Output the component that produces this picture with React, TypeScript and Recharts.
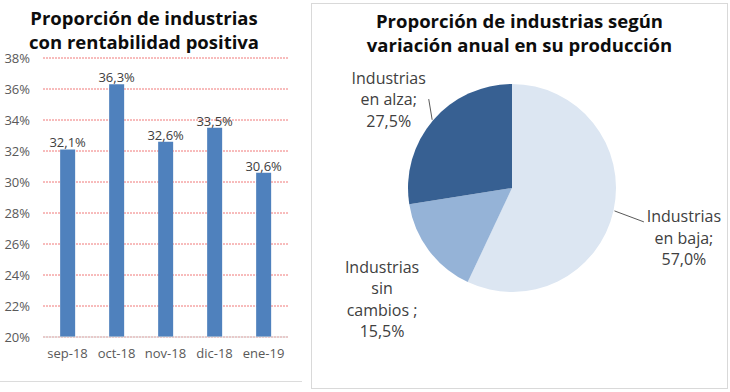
import React from 'react';
import { BarChart, Bar, XAxis, YAxis, CartesianGrid, LabelList, PieChart, Pie, Cell } from 'recharts';

const months = ['sep-18', 'oct-18', 'nov-18', 'dic-18', 'ene-19'];
const rentabilidad = [32.1, 36.3, 32.6, 33.5, 30.6];
const yTicks = [20, 22, 24, 26, 28, 30, 32, 34, 36, 38];

const pieNames = ['Industrias\nen baja;', 'Industrias\nsin\ncambios ;', 'Industrias\nen alza;'];
const pieValues = [57.0, 15.5, 27.5];
const pieColors = ['#dce6f2', '#95b3d7', '#376092'];

const barData = months.map((m, i) => ({ month: m, value: rentabilidad[i] }));
const pieData = pieNames.map((n, i) => ({ name: n, value: pieValues[i] }));

const FONT = "'Open Sans', sans-serif";
const fmt = (v: number) => v.toFixed(1).replace('.', ',') + '%';
const RAD = Math.PI / 180;

const PieLabel = (props: any) => {
  const { cx, cy, midAngle, outerRadius, index } = props;
  const c = Math.cos(-midAngle * RAD);
  const s = Math.sin(-midAngle * RAD);
  const lx = cx + c * (outerRadius + 66) + 6;
  const ly = cy + s * (outerRadius + 56) + 15;
  const lines = [...pieNames[index].split('\n'), fmt(pieValues[index])];
  const lh = 21.5;
  const top = ly - ((lines.length - 1) * lh) / 2;
  const showLine = !(c < 0 && s > 0);
  const px = cx + c * (outerRadius + 1);
  const py = cy + s * (outerRadius + 1);
  const qx = c > 0 ? lx - 40 : lx + 40;
  const qy = c > 0 ? ly - 16 : ly;
  return (
    <g>
      {showLine && <polyline points={`${px},${py} ${qx},${qy}`} stroke="#595959" strokeWidth={1} fill="none" />}
      <text x={lx} y={top} textAnchor="middle" fill="#404040" fontSize={16} fontFamily={FONT}>
        {lines.map((t, i) => (
          <tspan key={i} x={lx} y={top + i * lh} dominantBaseline="central">{t}</tspan>
        ))}
      </text>
    </g>
  );
};

export default function App() {
  return (
    <div style={{ position: 'absolute', left: 0, top: 0, width: 730, height: 392, background: '#fff', fontFamily: FONT, overflow: 'hidden' }}>
      <div style={{ position: 'absolute', left: 0, top: 6, width: 288, textAlign: 'center', fontWeight: 700, fontSize: 18.5, lineHeight: '24px', color: '#0d0d0d' }}>
        Proporción de industrias<br />con rentabilidad positiva
      </div>
      <div style={{ position: 'absolute', left: 0, top: 0 }}>
        <BarChart width={300} height={392} data={barData} margin={{ top: 58, right: 12, left: 3, bottom: 25 }} barCategoryGap="35%">
          <CartesianGrid vertical={false} stroke="#f07878" strokeDasharray="2 1" />
          <XAxis dataKey="month" axisLine={{ stroke: '#d9d9d9' }} tickLine={false} tickMargin={6} tick={{ fill: '#595959', fontSize: 13, fontFamily: FONT }} interval={0} />
          <YAxis domain={[20, 38]} ticks={yTicks} tickFormatter={(v: number) => `${v}%`} axisLine={false} tickLine={false} width={40} tickMargin={7} tick={{ fill: '#595959', fontSize: 13, fontFamily: FONT }} allowDataOverflow />
          <Bar dataKey="value" fill="#4f81bd" isAnimationActive={false}>
            <LabelList dataKey="value" position="top" offset={2} formatter={(v: any) => fmt(Number(v))} fill="#404040" fontSize={13} fontFamily={FONT} />
          </Bar>
        </BarChart>
      </div>
      <div style={{ position: 'absolute', left: 0, top: 381, width: 302, height: 1, background: '#dcdcdc' }} />
      <div style={{ position: 'absolute', left: 311, top: 3, width: 415, height: 384, border: '1px solid #d9d9d9' }} />
      <div style={{ position: 'absolute', left: 311, top: 9, width: 417, textAlign: 'center', fontWeight: 700, fontSize: 18.5, lineHeight: '24px', color: '#0d0d0d' }}>
        Proporción de industrias según<br />variación anual en su producción
      </div>
      <div style={{ position: 'absolute', left: 311, top: 0 }}>
        <PieChart width={419} height={392} margin={{ top: 0, right: 0, bottom: 0, left: 0 }}>
          <Pie data={pieData} dataKey="value" nameKey="name" cx={201} cy={188} outerRadius={104} startAngle={90} endAngle={-270} stroke="none" label={PieLabel} labelLine={false} isAnimationActive={false}>
            {pieData.map((d, i) => (
              <Cell key={d.name} fill={pieColors[i]} />
            ))}
          </Pie>
        </PieChart>
      </div>
    </div>
  );
}
